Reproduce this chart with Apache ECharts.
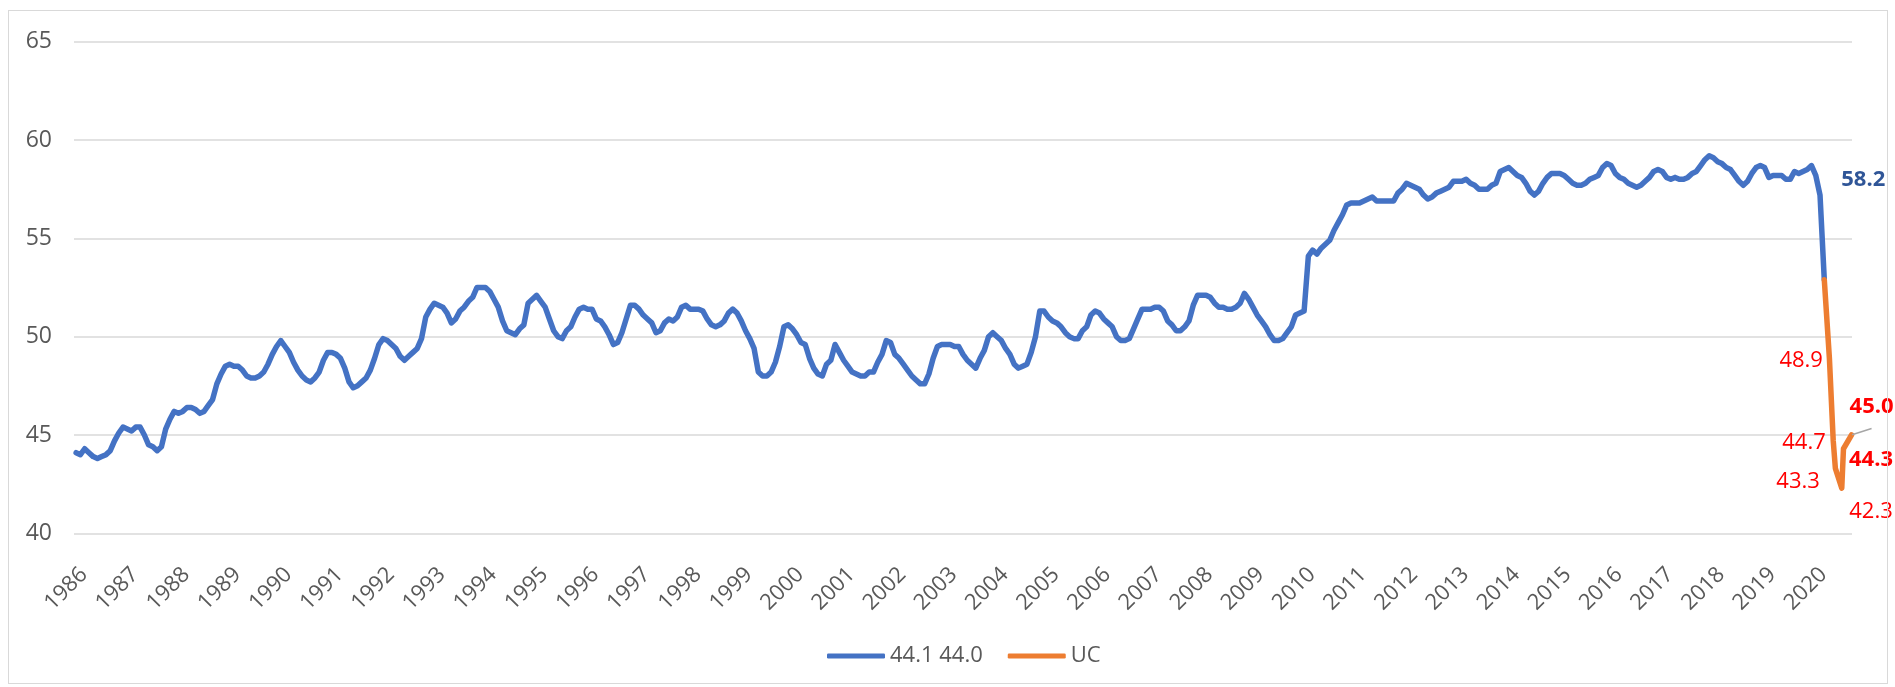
<!DOCTYPE html>
<html>
<head>
<meta charset="utf-8">
<script src="https://cdn.jsdelivr.net/npm/echarts@6/dist/echarts.min.js"></script>
<style>
html,body{margin:0;padding:0;background:#fff;}
#chart{position:absolute;left:0;top:0;width:1895px;height:687px;}
#frame{position:absolute;left:8px;top:10px;width:1878px;height:672px;border:1px solid #d9d9d9;pointer-events:none;}
</style>
</head>
<body>
<div id="chart"></div>
<div id="frame"></div>
<script>
// ---- categories (monthly, Jan 1986 .. Sep 2020) ----
const startYear = 1986;
const monthCount = 417;
const months = [];
for (let k = 0; k < monthCount; k++) {
  const y = startYear + Math.floor(k / 12);
  const m = (k % 12) + 1;
  months.push(y + '-' + String(m).padStart(2, '0'));
}

// ---- y ticks ----
const yMin = 40, yMax = 65, yStep = 5;

// ---- blue series (monthly) ----
const seriesAName = '44.1 44.0';
const seriesA = [
  44.1, 44.0, 44.3, 44.1, 43.9, 43.8, 43.9, 44.0, 44.2, 44.7, 45.1, 45.4,
  45.3, 45.2, 45.4, 45.4, 45.0, 44.5, 44.4, 44.2, 44.4, 45.3, 45.8, 46.2,
  46.1, 46.2, 46.4, 46.4, 46.3, 46.1, 46.2, 46.5, 46.8, 47.6, 48.1, 48.5,
  48.6, 48.5, 48.5, 48.3, 48.0, 47.9, 47.9, 48.0, 48.2, 48.6, 49.1, 49.5,
  49.8, 49.5, 49.2, 48.7, 48.3, 48.0, 47.8, 47.7, 47.9, 48.2, 48.8, 49.2,
  49.2, 49.1, 48.9, 48.4, 47.7, 47.4, 47.5, 47.7, 47.9, 48.3, 48.9, 49.6,
  49.9, 49.8, 49.6, 49.4, 49.0, 48.8, 49.0, 49.2, 49.4, 49.9, 51.0, 51.4,
  51.7, 51.6, 51.5, 51.2, 50.7, 50.9, 51.3, 51.5, 51.8, 52.0, 52.5, 52.5,
  52.5, 52.3, 51.9, 51.5, 50.8, 50.3, 50.2, 50.1, 50.4, 50.6, 51.7, 51.9,
  52.1, 51.8, 51.5, 50.9, 50.3, 50.0, 49.9, 50.3, 50.5, 51.0, 51.4, 51.5,
  51.4, 51.4, 50.9, 50.8, 50.5, 50.1, 49.6, 49.7, 50.2, 50.9, 51.6, 51.6,
  51.4, 51.1, 50.9, 50.7, 50.2, 50.3, 50.7, 50.9, 50.8, 51.0, 51.5, 51.6,
  51.4, 51.4, 51.4, 51.3, 50.9, 50.6, 50.5, 50.6, 50.8, 51.2, 51.4, 51.2,
  50.8, 50.3, 49.9, 49.4, 48.2, 48.0, 48.0, 48.2, 48.7, 49.5, 50.5, 50.6,
  50.4, 50.1, 49.7, 49.6, 48.9, 48.4, 48.1, 48.0, 48.6, 48.8, 49.6, 49.2,
  48.8, 48.5, 48.2, 48.1, 48.0, 48.0, 48.2, 48.2, 48.7, 49.1, 49.8, 49.7,
  49.1, 48.9, 48.6, 48.3, 48.0, 47.8, 47.6, 47.6, 48.1, 48.9, 49.5, 49.6,
  49.6, 49.6, 49.5, 49.5, 49.1, 48.8, 48.6, 48.4, 48.9, 49.3, 50.0, 50.2,
  50.0, 49.8, 49.4, 49.1, 48.6, 48.4, 48.5, 48.6, 49.2, 50.0, 51.3, 51.3,
  51.0, 50.8, 50.7, 50.5, 50.2, 50.0, 49.9, 49.9, 50.3, 50.5, 51.1, 51.3,
  51.2, 50.9, 50.7, 50.5, 50.0, 49.8, 49.8, 49.9, 50.4, 50.9, 51.4, 51.4,
  51.4, 51.5, 51.5, 51.3, 50.8, 50.6, 50.3, 50.3, 50.5, 50.8, 51.6, 52.1,
  52.1, 52.1, 52.0, 51.7, 51.5, 51.5, 51.4, 51.4, 51.5, 51.7, 52.2, 51.9,
  51.5, 51.1, 50.8, 50.5, 50.1, 49.8, 49.8, 49.9, 50.2, 50.5, 51.1, 51.2,
  51.3, 54.1, 54.4, 54.2, 54.5, 54.7, 54.9, 55.4, 55.8, 56.2, 56.7, 56.8,
  56.8, 56.8, 56.9, 57.0, 57.1, 56.9, 56.9, 56.9, 56.9, 56.9, 57.3, 57.5,
  57.8, 57.7, 57.6, 57.5, 57.2, 57.0, 57.1, 57.3, 57.4, 57.5, 57.6, 57.9,
  57.9, 57.9, 58.0, 57.8, 57.7, 57.5, 57.5, 57.5, 57.7, 57.8, 58.4, 58.5,
  58.6, 58.4, 58.2, 58.1, 57.8, 57.4, 57.2, 57.4, 57.8, 58.1, 58.3, 58.3,
  58.3, 58.2, 58.0, 57.8, 57.7, 57.7, 57.8, 58.0, 58.1, 58.2, 58.6, 58.8,
  58.7, 58.3, 58.1, 58.0, 57.8, 57.7, 57.6, 57.7, 57.9, 58.1, 58.4, 58.5,
  58.4, 58.1, 58.0, 58.1, 58.0, 58.0, 58.1, 58.3, 58.4, 58.7, 59.0, 59.2,
  59.1, 58.9, 58.8, 58.6, 58.5, 58.2, 57.9, 57.7, 57.9, 58.3, 58.6, 58.7,
  58.6, 58.1, 58.2, 58.2, 58.2, 58.0, 58.0, 58.4, 58.3, 58.4, 58.5, 58.7,
  58.2, 57.2, 52.9
];
const labelledA = 408;

// ---- orange series (irregular dates, in month-index units) ----
const seriesBName = 'UC';
const ucX = [410, 411.2, 412.1, 412.6, 414.1, 414.5, 416.4];
const ucY = [52.9, 48.9, 44.7, 43.3, 42.3, 44.3, 45.0];

// ---- label placement styles (not data) ----
const ucLabelStyle = {
  1: {position: 'left', distance: 6, offset: [0, 2]},
  2: {position: 'left', distance: 7, offset: [0, 2]},
  3: {position: 'left', distance: 15, offset: [0, 13]},
  4: {position: 'right', distance: 7, offset: [0, 24]},
  5: {position: 'right', distance: 5, offset: [0, 11], bold: true},
  6: {position: 'top', distance: 17, offset: [20, 0], bold: true, guide: true}
};

const FONT = 'Open Sans';
const BLUE = '#4472C4', ORANGE = '#ED7D31', GRID = '#d9d9d9', TXT = '#595959';

const ucData = ucX.map((x, k) => {
  const item = {value: [x, ucY[k]]};
  const s = ucLabelStyle[k];
  if (s) {
    item.label = {show: true, position: s.position, distance: s.distance, offset: s.offset,
                  fontWeight: s.bold ? 'bold' : 'normal'};
    if (s.guide) item.labelLine = {show: true, lineStyle: {color: '#a6a6a6', width: 1.5}};
  }
  return item;
});

const chart = echarts.init(document.getElementById('chart'), null, {renderer: 'canvas', width: 1895, height: 687});
chart.setOption({
  animation: false,
  backgroundColor: '#ffffff',
  textStyle: {fontFamily: FONT},
  grid: {left: 74, right: 43, top: 41.7, bottom: 153.7, containLabel: false, outerBoundsMode: 'none'},
  legend: {
    top: 640, left: 822, icon: 'roundRect', itemWidth: 58, itemHeight: 5, itemGap: 25,
    textStyle: {fontSize: 22, color: TXT, fontFamily: FONT},
    data: [seriesAName, seriesBName]
  },
  xAxis: [
    {
      type: 'category', data: months, boundaryGap: true, offset: 6,
      axisLine: {show: false}, axisTick: {show: false}, splitLine: {show: false},
      axisLabel: {
        interval: (i) => i % 12 === 0, rotate: 45, fontSize: 22, color: TXT, margin: 24,
        verticalAlign: 'top',
        fontFamily: FONT, formatter: (v) => v.slice(0, 4)
      }
    },
    {type: 'value', min: -0.5, max: monthCount - 0.5, show: false}
  ],
  yAxis: {
    type: 'value', min: yMin, max: yMax, interval: yStep,
    axisLine: {show: false}, axisTick: {show: false},
    axisLabel: {fontSize: 23, color: TXT, margin: 22, fontFamily: FONT},
    splitLine: {lineStyle: {color: GRID, width: 1.5}}
  },
  series: [
    {
      name: seriesAName, type: 'line', xAxisIndex: 0, data: seriesA,
      showSymbol: false, color: BLUE,
      lineStyle: {color: BLUE, width: 5.5, cap: 'round', join: 'round'},
      itemStyle: {color: BLUE},
      emphasis: {disabled: true},
      markPoint: {
        symbol: 'circle', symbolSize: 1, itemStyle: {color: BLUE},
        data: [{coord: [labelledA, seriesA[labelledA]], value: seriesA[labelledA]}],
        label: {show: true, position: 'right', distance: 25, offset: [0, 4], color: '#2F5597',
                fontWeight: 'bold', fontSize: 22, fontFamily: FONT,
                formatter: (p) => Number(p.value).toFixed(1)}
      }
    },
    {
      name: seriesBName, type: 'line', xAxisIndex: 1, data: ucData,
      showSymbol: true, showAllSymbol: true, symbol: 'circle', symbolSize: 1, color: ORANGE,
      lineStyle: {color: ORANGE, width: 5.5, cap: 'round', join: 'round'},
      itemStyle: {color: ORANGE},
      emphasis: {disabled: true},
      label: {show: false, color: '#FF0000', fontSize: 22, fontFamily: FONT,
              formatter: (p) => Number(p.value[1]).toFixed(1)}
    }
  ]
});
</script>
</body>
</html>
